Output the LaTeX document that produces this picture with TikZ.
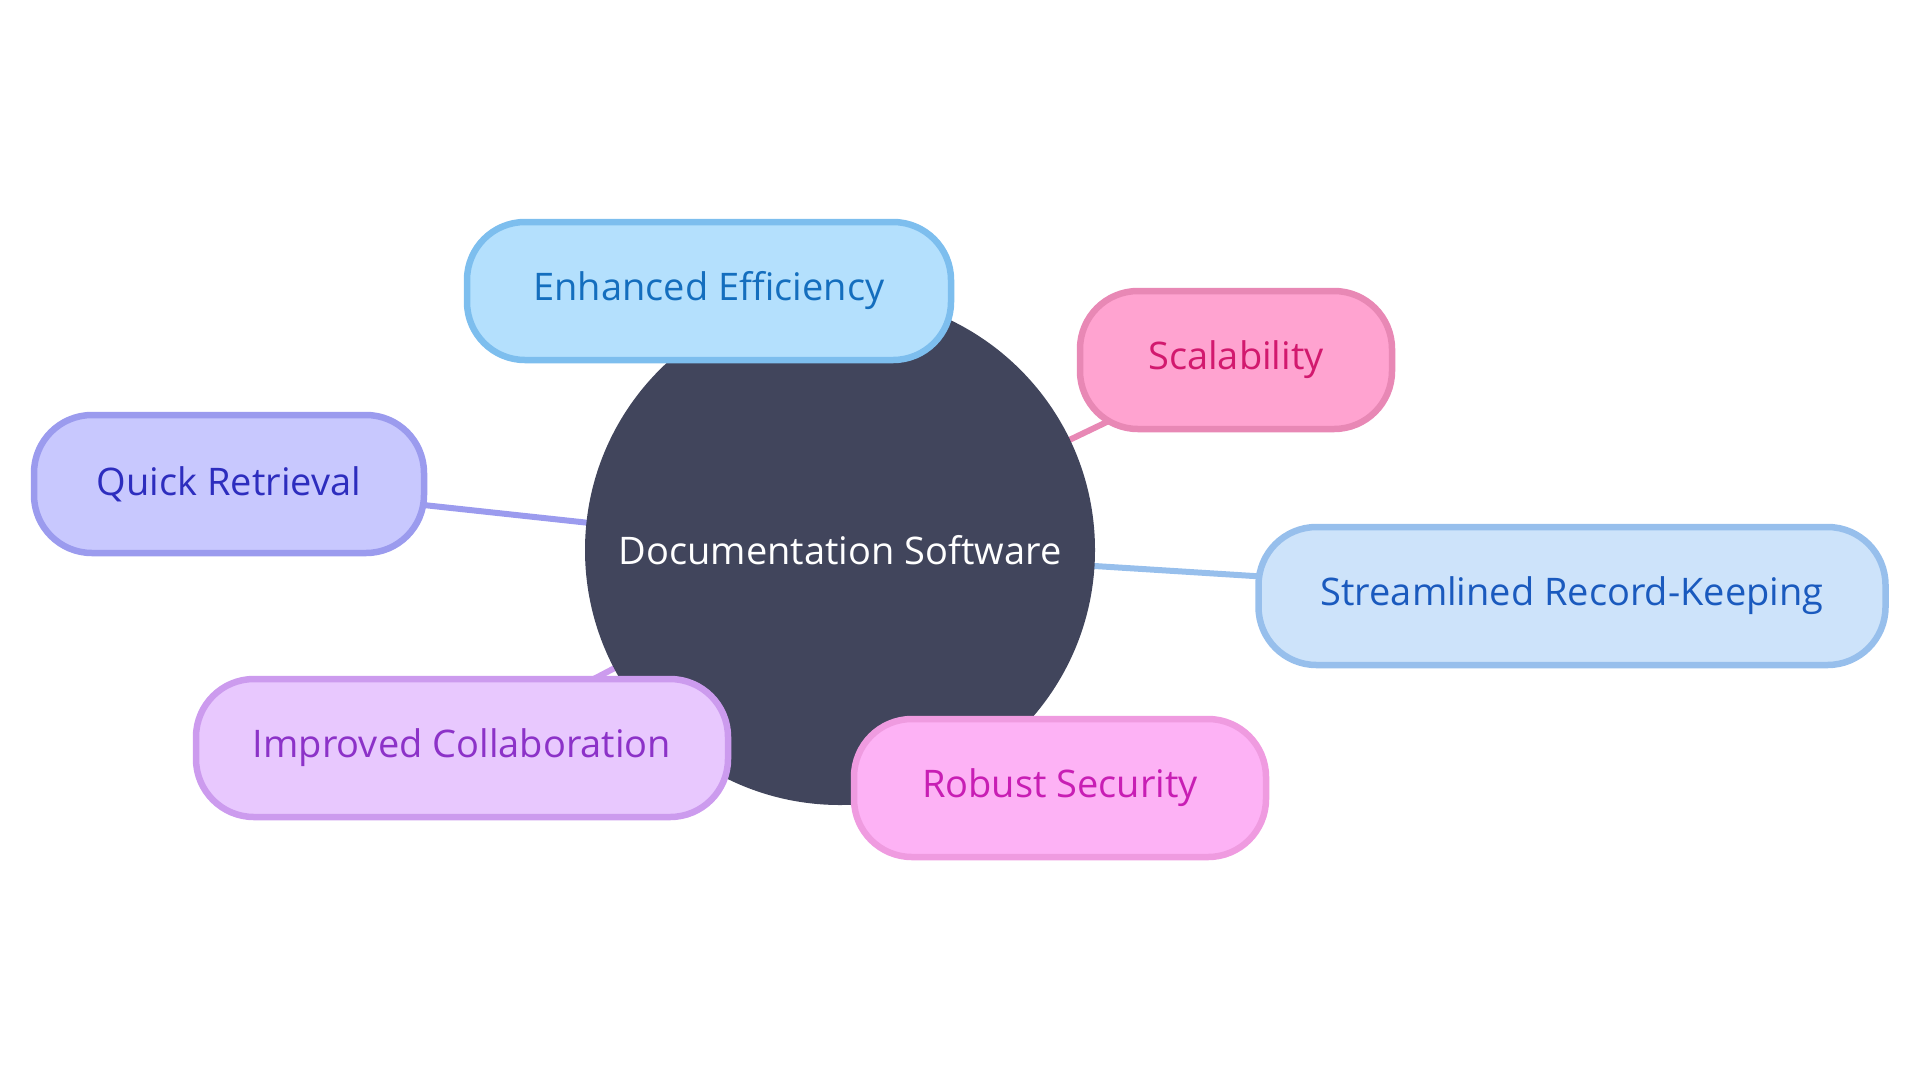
\documentclass[tikz,border=0pt]{standalone}
\usepackage{fontspec}
\setmainfont{Open Sans}
\usetikzlibrary{backgrounds}
\definecolor{hub}{HTML}{41455C}
\definecolor{eeF}{HTML}{B4E0FD}\definecolor{eeD}{HTML}{7DBEEE}\definecolor{eeT}{HTML}{146EBE}
\definecolor{scF}{HTML}{FFA3D0}\definecolor{scD}{HTML}{E888B5}\definecolor{scT}{HTML}{D2196E}
\definecolor{qrF}{HTML}{C8C8FE}\definecolor{qrD}{HTML}{9B9BEE}\definecolor{qrT}{HTML}{2D2DBE}
\definecolor{srF}{HTML}{CDE3FA}\definecolor{srD}{HTML}{97BFEC}\definecolor{srT}{HTML}{1A5ABE}
\definecolor{icF}{HTML}{E8C8FE}\definecolor{icD}{HTML}{CC9BEE}\definecolor{icT}{HTML}{8C32C8}
\definecolor{rsF}{HTML}{FDB2F5}\definecolor{rsD}{HTML}{EF9BE0}\definecolor{rsT}{HTML}{C81EB4}
\tikzset{
  hubnode/.style={circle, fill=hub, text=white, minimum size=510pt, inner sep=0pt,
    font=\fontsize{38}{46}\selectfont},
  leaf/.style={rounded corners=58pt, line width=6.5pt, minimum height=138pt, inner sep=0pt,
    font=\fontsize{38}{46}\selectfont},
  link/.style={line width=6pt}
}
\begin{document}
\begin{tikzpicture}[x=1pt,y=-1pt]
\useasboundingbox (0,0) rectangle (1920,1080);
\node[hubnode] (hub) at (840,550) {Documentation Software};
\node[leaf, fill=eeF, draw=eeD, text=eeT, minimum width=484pt] (ee) at (709,291) {Enhanced Efficiency};
\node[leaf, fill=scF, draw=scD, text=scT, minimum width=312pt] (sc) at (1236,360) {Scalability};
\node[leaf, fill=qrF, draw=qrD, text=qrT, minimum width=390pt] (qr) at (229,484) {Quick Retrieval};
\node[leaf, fill=srF, draw=srD, text=srT, minimum width=627pt] (sr) at (1572,596) {Streamlined Record-Keeping};
\node[leaf, fill=icF, draw=icD, text=icT, minimum width=532pt] (ic) at (462,748) {Improved Collaboration};
\node[leaf, fill=rsF, draw=rsD, text=rsT, minimum width=412pt] (rs) at (1060,788) {Robust Security};
\begin{pgfonlayer}{background}
\draw[link, eeD] (hub.center) -- (ee.center);
\draw[link, scD] (hub.center) -- (sc.center);
\draw[link, qrD] (hub.center) -- (qr.center);
\draw[link, srD] (hub.center) -- (sr.center);
\draw[link, icD] (hub.center) -- (ic.center);
\draw[link, rsD] (hub.center) -- (rs.center);
\end{pgfonlayer}
\end{tikzpicture}
\end{document}
